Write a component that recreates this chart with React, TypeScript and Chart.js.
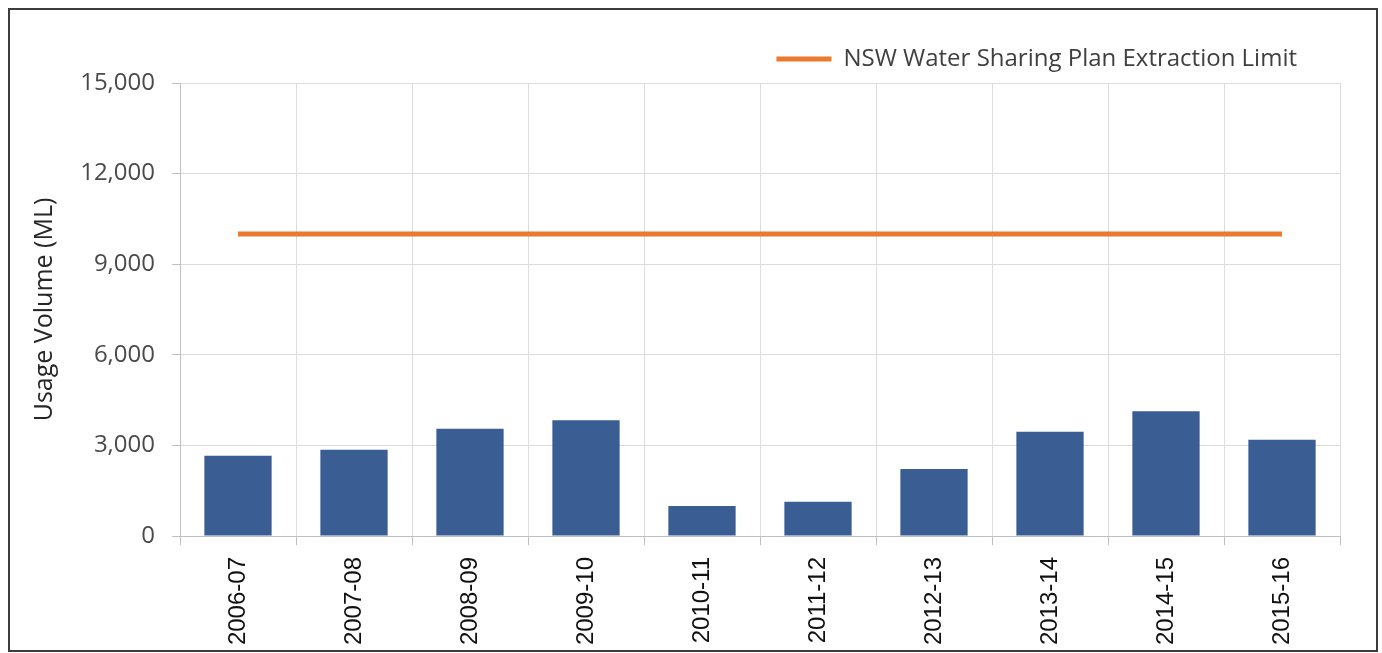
import React, { useEffect, useRef } from "react";
import { Chart, registerables } from "chart.js";

Chart.register(...registerables);

const categories = [
  "2006-07",
  "2007-08",
  "2008-09",
  "2009-10",
  "2010-11",
  "2011-12",
  "2012-13",
  "2013-14",
  "2014-15",
  "2015-16",
];
const usageValues = [2660, 2860, 3550, 3830, 990, 1130, 2220, 3450, 4130, 3190];
const limitValues = [10000, 10000, 10000, 10000, 10000, 10000, 10000, 10000, 10000, 10000];
const limitLabel = "NSW Water Sharing Plan Extraction Limit";
const yAxisTitle = "Usage Volume (ML)";
const yMin = 0;
const yMax = 15000;
const yStep = 3000;

const framePlugin = {
  id: "frame",
  afterLayout(chart: any) {
    const lg = chart.legend;
    if (lg) {
      lg.right = chart.chartArea.right - 33;
      lg.top = lg.top - 2;
    }
  },
  afterDraw(chart: any) {
    const ctx = chart.ctx;
    ctx.save();
    ctx.strokeStyle = "#3c3c3c";
    ctx.lineWidth = 2;
    ctx.strokeRect(9, 9, chart.width - 14, chart.height - 11);
    ctx.restore();
  },
};

export default function App() {
  const ref = useRef<HTMLCanvasElement | null>(null);

  useEffect(() => {
    if (!ref.current) return;
    const chart = new Chart(ref.current, {
      type: "bar",
      data: {
        labels: categories,
        datasets: [
          {
            type: "bar",
            label: "Usage",
            data: usageValues,
            backgroundColor: "#3A5E93",
            borderWidth: 0,
            categoryPercentage: 1,
            barPercentage: 0.58,
            order: 2,
          },
          {
            type: "line",
            label: limitLabel,
            data: limitValues,
            borderColor: "#E97A2E",
            backgroundColor: "#E97A2E",
            borderWidth: 5,
            pointRadius: 0,
            pointHoverRadius: 0,
            fill: false,
            order: 1,
          } as any,
        ],
      },
      options: {
        responsive: false,
        animation: false,
        layout: { padding: { top: 39, right: 42, bottom: 0, left: 0 } },
        plugins: {
          tooltip: { enabled: false },
          legend: {
            display: true,
            position: "top",
            align: "end",
            labels: {
              filter: (item: any) => item.datasetIndex === 1,
              usePointStyle: true,
              pointStyle: "line",
              pointStyleWidth: 55,
              padding: 10,
              color: "#404040",
              font: { family: "'Open Sans'", size: 24 },
            },
          },
        },
        scales: {
          x: {
            type: "category",
            offset: true,
            grid: {
              display: true,
              offset: true,
              color: "#dcdcdc",
              lineWidth: 1,
              drawTicks: true,
              tickLength: 9,
              tickColor: "#bfbfbf",
            },
            border: { display: true, color: "#bfbfbf", width: 1 },
            ticks: {
              maxRotation: 90,
              minRotation: 90,
              autoSkip: false,
              padding: 12,
              color: "#111111",
              font: { family: "'Liberation Sans', Arial", size: 24 },
            },
            afterFit: (scale: any) => {
              scale.height = 117;
            },
          },
          y: {
            min: yMin,
            max: yMax,
            grid: {
              color: "#dcdcdc",
              lineWidth: 1,
              drawTicks: true,
              tickLength: 8,
              tickColor: "#bfbfbf",
            },
            border: { display: true, color: "#bfbfbf", width: 1 },
            ticks: {
              stepSize: yStep,
              padding: 17,
              color: "#4a4a4a",
              font: { family: "'Open Sans'", size: 24 },
              callback: (v: any) => Number(v).toLocaleString("en-US"),
            },
            title: {
              display: true,
              text: yAxisTitle,
              color: "#262626",
              padding: { top: 30, bottom: 0 },
              font: { family: "'Open Sans'", size: 25 },
            },
            afterFit: (scale: any) => {
              scale.width = 180;
            },
          },
        },
      },
      plugins: [framePlugin],
    });
    return () => chart.destroy();
  }, []);

  return (
    <div style={{ position: "absolute", left: 0, top: 0 }}>
      <canvas ref={ref} width={1382} height={653} style={{ display: "block" }} />
    </div>
  );
}
